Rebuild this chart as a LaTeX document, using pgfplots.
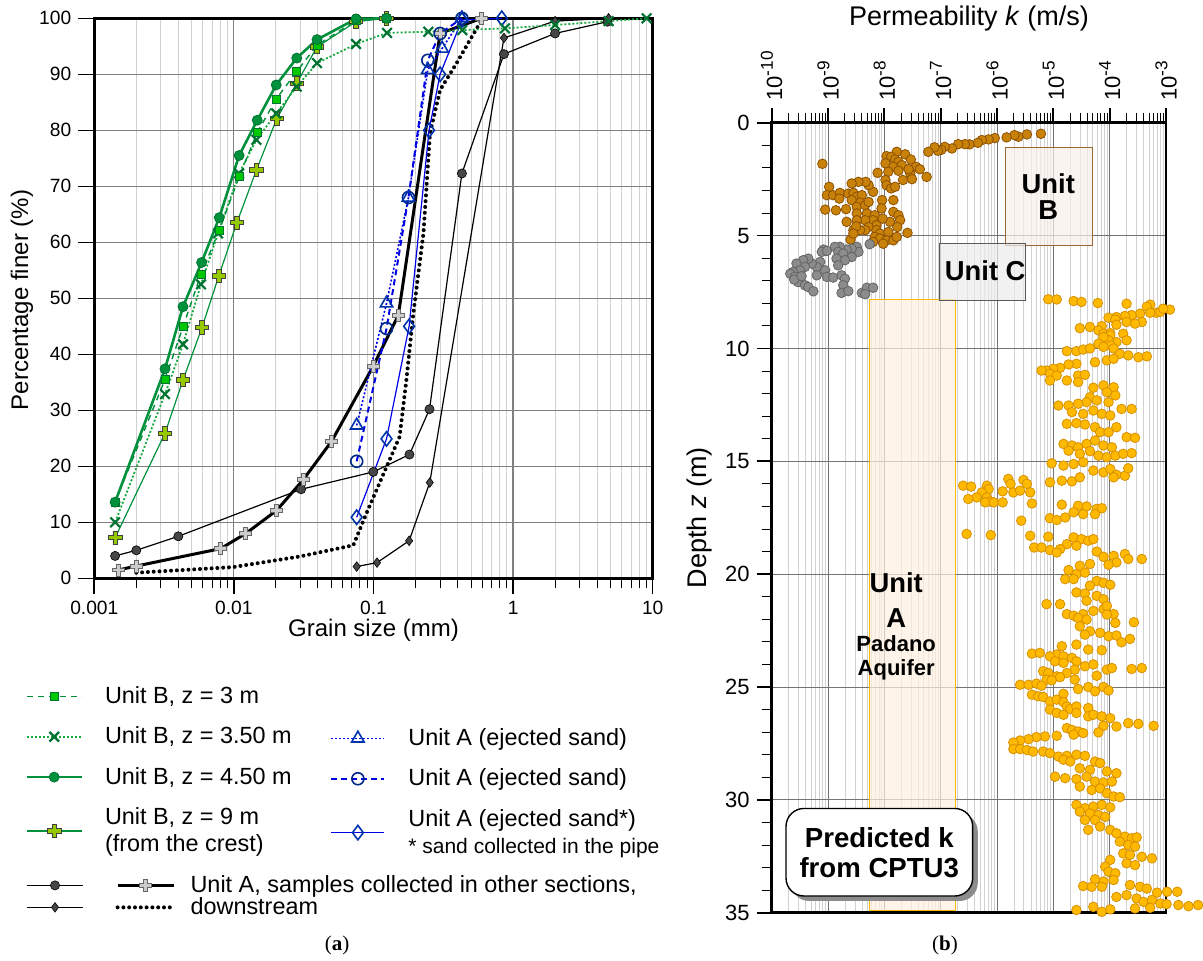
\documentclass[border=0pt]{standalone}
\usepackage{fontspec}
\setmainfont{Liberation Sans}
\newfontfamily\seriffont{Liberation Serif}
\usepackage{pgfplots}
\pgfplotsset{compat=1.18}

\definecolor{gDark}{RGB}{0,115,50}
\definecolor{gMid}{RGB}{0,145,60}
\definecolor{gDot}{RGB}{20,170,60}
\definecolor{gBright}{RGB}{0,200,0}
\definecolor{gLime}{RGB}{150,200,0}
\definecolor{bLine}{RGB}{0,0,230}
\definecolor{bMark}{RGB}{0,50,170}
\definecolor{dGray}{RGB}{70,70,70}
\definecolor{kBrown}{RGB}{200,130,10}
\definecolor{kBrownE}{RGB}{140,80,0}
\definecolor{kGray}{RGB}{140,140,140}
\definecolor{kGrayE}{RGB}{100,100,100}
\definecolor{kOr}{RGB}{255,185,0}
\definecolor{kOrE}{RGB}{215,145,0}

% filled "fat" plus used by two of the grading curves
\pgfdeclareplotmark{fatplus}{%
  \pgfmathsetlengthmacro\fpa{0.32*\pgfplotmarksize}%
  \pgfpathmoveto{\pgfqpoint{-\fpa}{\pgfplotmarksize}}%
  \pgfpathlineto{\pgfqpoint{\fpa}{\pgfplotmarksize}}%
  \pgfpathlineto{\pgfqpoint{\fpa}{\fpa}}%
  \pgfpathlineto{\pgfqpoint{\pgfplotmarksize}{\fpa}}%
  \pgfpathlineto{\pgfqpoint{\pgfplotmarksize}{-\fpa}}%
  \pgfpathlineto{\pgfqpoint{\fpa}{-\fpa}}%
  \pgfpathlineto{\pgfqpoint{\fpa}{-\pgfplotmarksize}}%
  \pgfpathlineto{\pgfqpoint{-\fpa}{-\pgfplotmarksize}}%
  \pgfpathlineto{\pgfqpoint{-\fpa}{-\fpa}}%
  \pgfpathlineto{\pgfqpoint{-\pgfplotmarksize}{-\fpa}}%
  \pgfpathlineto{\pgfqpoint{-\pgfplotmarksize}{\fpa}}%
  \pgfpathlineto{\pgfqpoint{-\fpa}{\fpa}}%
  \pgfpathclose
  \pgfusepathqfillstroke}

\tikzset{
  sB3/.style={gMid, dash pattern=on 3pt off 2.5pt, line width=0.7pt, mark=square*, mark size=2pt,
    mark options={solid, fill=gBright, draw=gDark, line width=0.4pt}},
  sB35/.style={gDot, dash pattern=on 1pt off 1pt, line width=0.9pt, mark=x, mark size=3.4pt,
    mark options={solid, draw=gDark, line width=1.1pt}},
  sB45/.style={gMid, line width=1.3pt, mark=*, mark size=2.5pt,
    mark options={solid, fill=gMid, draw=gDark, line width=0.4pt}},
  sB9/.style={gMid, line width=0.6pt, mark=fatplus, mark size=3.4pt,
    mark options={solid, fill=gLime, draw=black!75, line width=0.4pt}},
  sAt/.style={bLine, dash pattern=on 1pt off 1pt, line width=0.8pt, mark=triangle, mark size=3.6pt,
    mark options={solid, draw=bMark, line width=0.8pt}},
  sAc/.style={bLine, dash pattern=on 3pt off 2pt, line width=1.0pt, mark=o, mark size=3pt,
    mark options={solid, draw=bMark!80!black, line width=0.8pt}},
  sAd/.style={bLine, line width=0.6pt, mark=diamond, mark size=3.6pt,
    mark options={solid, draw=bMark, line width=0.8pt}},
  sKc/.style={black, line width=0.6pt, mark=*, mark size=2.3pt,
    mark options={fill=dGray, draw=black, line width=0.3pt}},
  sKd/.style={black, line width=0.6pt, mark=diamond*, mark size=2.4pt,
    mark options={fill=dGray, draw=black, line width=0.3pt}},
  sKp/.style={black, line width=1.5pt, mark=fatplus, mark size=3pt,
    mark options={fill=black!20, draw=black!60, line width=0.4pt}},
  sKdot/.style={black, line width=2pt, line cap=round, dash pattern=on 0pt off 2.9pt},
}
\newcommand\ex[1]{10\raisebox{0.42em}{\fontsize{8.6}{9}\selectfont #1}}

\begin{document}
\begin{tikzpicture}
\path[use as bounding box] (0,0) rectangle (601.5pt,-480pt);

% ---------------- (a) grain size distribution ----------------
\begin{axis}[name=L, at={(47.15pt,-9.15pt)}, anchor=north west, scale only axis,
  width=279.2pt, height=280pt,
  xmode=log, xmin=0.001, xmax=10, ymin=0, ymax=100,
  xtick={0.001,0.01,0.1,1,10}, xticklabels={0.001,0.01,0.1,1,10},
  minor xtick={0.002,0.003,0.004,0.005,0.006,0.007,0.008,0.009,
    0.02,0.03,0.04,0.05,0.06,0.07,0.08,0.09,
    0.2,0.3,0.4,0.5,0.6,0.7,0.8,0.9,
    2,3,4,5,6,7,8,9},
  ytick={0,10,...,100},
  /pgf/number format/assume math mode=true,
  tick align=outside, xtick pos=left, ytick pos=left,
  major tick length=8pt, minor tick length=5pt,
  major tick style={black, line width=0.8pt},
  minor tick style={black, line width=0.5pt},
  xmajorgrids, xminorgrids, ymajorgrids,
  major grid style={draw=black!50, line width=0.6pt},
  minor grid style={draw=black!18, line width=0.5pt},
  axis line style={line width=1.4pt},
  tick label style={font=\fontsize{9.6}{11}\selectfont},
  clip=false]

\addplot[sKdot] table {
0.002 1.0
0.00986 2.0
0.0297 3.9
0.0717 5.9
0.089 11.6
0.124 19.9
0.154 25.3
0.172 35.4
0.193 47.3
0.228 61.6
0.254 79.5
0.30 87.2
0.394 92.0
0.49 96.1
0.596 99.7
};
\addplot[sKc] table {
0.00141 4.0
0.002 5.0
0.004 7.5
0.0303 15.9
0.0997 19.0
0.181 22.1
0.252 30.2
0.43 72.3
0.86 93.6
2.0 97.3
4.75 99.4
};
\addplot[sKd] table {
0.0758 2.1
0.106 2.8
0.18 6.7
0.253 17.1
0.86 96.5
2.0 99.5
4.83 100
};
\addplot[sKp] table {
0.00149 1.5
0.00201 2.2
0.00804 5.3
0.01215 8.0
0.0202 12.1
0.0314 17.6
0.0502 24.5
0.0997 37.9
0.1507 47.0
0.30 97.3
0.596 100
};
\addplot[sAd] table {
0.0758 10.9
0.124 24.9
0.18 45
0.25 80
0.30 90
0.43 99.7
0.83 100
};
\addplot[sAc] table {
0.0758 20.9
0.124 44.6
0.178 68
0.245 92.5
0.30 97.3
0.43 100
};
\addplot[sAt] table {
0.0758 27.3
0.124 49.1
0.178 68
0.245 90.8
0.31 94.6
0.43 100
};
\addplot[sB9] table {
0.00141 7.25
0.00321 25.9
0.00432 35.4
0.00591 44.8
0.0078 54.0
0.0105 63.5
0.0145 72.9
0.0203 82.1
0.0282 88.4
0.0394 94.9
0.075 99.4
0.124 100
};
\addplot[sB35] table {
0.00141 10.0
0.00321 32.9
0.00432 41.8
0.00581 52.5
0.0077 61.6
0.0109 72.3
0.0145 78.3
0.0201 83.0
0.0282 87.8
0.0394 92.0
0.075 95.4
0.125 97.4
0.247 97.6
0.433 97.9
0.875 98.2
2.0 98.8
4.83 99.5
9.05 100
};
\addplot[sB3] table {
0.00141 13.6
0.00321 35.5
0.00432 44.9
0.00581 54.3
0.00786 62.2
0.0109 71.7
0.0147 79.6
0.0201 85.6
0.0282 90.5
0.0394 95.2
0.075 99.6
0.124 100
};
\addplot[sB45] table {
0.00141 13.6
0.00321 37.4
0.00432 48.5
0.00587 56.4
0.00786 64.4
0.0109 75.5
0.0147 81.8
0.0201 88.1
0.0282 92.9
0.0394 96.2
0.075 99.9
0.124 100
};
\end{axis}

% ---------------- (b) permeability profile ----------------
\begin{axis}[name=R, at={(385.85pt,-61.35pt)}, anchor=north west, scale only axis,
  width=197.15pt, height=395pt,
  xmin=-10, xmax=-3, ymin=0, ymax=35, y dir=reverse,
  xtick={-10,...,-3},
  xticklabels={\ex{-10},\ex{-9},\ex{-8},\ex{-7},\ex{-6},\ex{-5},\ex{-4},\ex{-3}},
  minor xtick={-9.699,-9.523,-9.398,-9.301,-9.222,-9.155,-9.097,-9.046,
    -8.699,-8.523,-8.398,-8.301,-8.222,-8.155,-8.097,-8.046,
    -7.699,-7.523,-7.398,-7.301,-7.222,-7.155,-7.097,-7.046,
    -6.699,-6.523,-6.398,-6.301,-6.222,-6.155,-6.097,-6.046,
    -5.699,-5.523,-5.398,-5.301,-5.222,-5.155,-5.097,-5.046,
    -4.699,-4.523,-4.398,-4.301,-4.222,-4.155,-4.097,-4.046,
    -3.699,-3.523,-3.398,-3.301,-3.222,-3.155,-3.097,-3.046},
  xtick pos=right, xticklabel pos=right,
  xticklabel style={rotate=90, anchor=west, font=\fontsize{11}{12}\selectfont},
  ytick={0,5,...,35}, minor ytick={1,2,3,4,6,7,8,9,11,12,13,14,16,17,18,19,21,22,23,24,26,27,28,29,31,32,33,34},
  ytick pos=left,
  yticklabel style={font=\fontsize{11}{12}\selectfont},
  /pgf/number format/assume math mode=true,
  tick align=outside,
  major tick length=7.5pt, minor tick length=5pt,
  major tick style={black, line width=0.9pt},
  minor tick style={black, line width=0.5pt},
  xmajorgrids, xminorgrids, ymajorgrids,
  major grid style={draw=black!55, line width=0.5pt},
  minor grid style={draw=black!18, line width=0.4pt},
  axis line style={line width=1.4pt},
  clip=false]

% unit boxes
\fill[orange!12, fill opacity=0.7] (axis cs:-8.27,7.83) rectangle (axis cs:-6.73,34.9);
\draw[kOr, line width=0.5pt] (axis cs:-8.27,7.83) rectangle (axis cs:-6.73,34.9);
\fill[brown!12, fill opacity=0.7] (axis cs:-5.85,1.09) rectangle (axis cs:-4.30,5.44);
\draw[brown!80!black, line width=0.5pt] (axis cs:-5.85,1.09) rectangle (axis cs:-4.30,5.44);
\fill[black!8, fill opacity=0.7] (axis cs:-7.02,5.37) rectangle (axis cs:-5.49,7.87);
\draw[black!65, line width=0.5pt] (axis cs:-7.02,5.37) rectangle (axis cs:-5.49,7.87);

\addplot[only marks, mark=*, mark size=2.4pt, mark options={fill=kBrown, draw=kBrownE, line width=0.4pt}] table {
-5.22 0.49
-5.47 0.52
-5.62 0.62
-5.69 0.55
-5.83 0.65
-6.04 0.68
-6.15 0.74
-6.27 0.77
-6.34 0.89
-6.49 0.96
-6.57 0.95
-6.69 0.95
-6.80 1.14
-6.93 1.07
-6.99 1.20
-7.05 1.24
-7.11 1.09
-7.22 1.29
-9.10 1.82
-7.78 1.29
-7.63 1.40
-7.96 1.48
-7.88 1.51
-7.81 1.63
-7.53 1.63
-7.98 1.80
-7.75 1.73
-7.84 1.95
-7.69 1.88
-7.44 1.95
-7.37 2.06
-7.25 2.40
-7.54 2.25
-7.67 2.54
-7.51 2.50
-7.57 2.06
-7.93 2.17
-8.12 2.22
-7.75 2.13
-7.98 2.54
-7.96 2.77
-7.88 2.91
-7.81 2.84
-7.84 3.43
-8.04 3.43
-8.20 3.06
-8.28 2.77
-8.33 2.62
-8.46 2.62
-8.58 2.69
-8.98 2.84
-9.02 3.21
-8.91 3.21
-8.79 3.11
-8.80 3.36
-8.64 3.14
-8.55 3.11
-8.49 3.28
-8.40 3.21
-8.58 3.43
-8.43 3.54
-8.49 3.73
-8.34 3.65
-8.28 3.51
-9.05 3.85
-8.86 3.88
-8.68 3.83
-8.49 4.02
-8.31 4.02
-8.17 4.10
-8.05 3.80
-7.84 3.95
-7.75 4.10
-7.72 4.32
-7.90 4.39
-8.03 4.25
-8.20 4.32
-8.34 4.32
-8.49 4.32
-8.67 4.39
-8.14 4.54
-8.28 4.62
-8.34 4.76
-8.43 4.76
-8.55 4.76
-8.50 4.59
-8.14 4.76
-8.08 4.91
-7.93 4.84
-7.77 4.62
-7.59 4.88
-8.17 5.06
-8.08 5.13
-7.96 5.21
-7.84 5.21
-7.78 5.06
-8.60 5.18
-8.55 4.91
-8.02 5.36
-8.20 5.28
};
\addplot[only marks, mark=*, mark size=2.4pt, mark options={fill=kGray, draw=kGrayE, line width=0.4pt}] table {
-8.26 5.38
-8.49 5.50
-8.46 5.72
-8.58 5.58
-8.67 5.62
-8.79 5.50
-8.88 5.50
-8.82 5.72
-8.73 5.80
-8.58 5.95
-8.70 6.09
-8.85 6.02
-9.08 5.62
-9.11 5.72
-9.02 5.68
-9.14 6.17
-9.20 6.39
-9.29 6.24
-9.35 6.02
-9.44 6.09
-9.56 6.24
-9.41 6.39
-9.50 6.54
-9.62 6.61
-9.67 6.69
-9.59 6.83
-9.53 7.06
-9.41 7.20
-9.35 7.28
-9.26 7.47
-9.20 6.76
-9.05 6.54
-9.02 6.83
-8.91 6.86
-8.82 6.32
-8.76 6.76
-8.70 6.91
-8.73 7.20
-8.76 7.54
-8.64 7.46
-8.40 7.54
-8.31 7.31
-8.20 7.31
-8.34 7.60
-9.60 6.95
-9.47 6.80
};
\addplot[only marks, mark=*, mark size=2.4pt, mark options={fill=kOr, draw=kOrE, line width=0.4pt}] table {
-5.09 7.82
-4.94 7.83
-4.64 7.90
-4.50 7.94
-4.21 7.99
-3.70 8.02
-3.28 8.06
-3.34 8.15
-3.17 8.42
-3.10 8.38
-2.93 8.28
-3.05 8.24
-3.28 8.42
-3.46 8.46
-3.61 8.52
-3.73 8.56
-3.88 8.61
-4.02 8.64
-3.90 8.72
-3.70 8.83
-3.43 8.83
-3.55 8.90
-3.88 8.95
-4.14 9.01
-4.35 9.05
-4.53 9.10
-4.20 9.20
-4.11 9.35
-3.99 9.32
-3.99 9.42
-3.76 9.35
-3.70 9.64
-3.88 9.72
-4.02 9.64
-4.11 9.50
-4.20 9.79
-3.98 9.87
-4.76 10.12
-4.59 10.12
-4.47 10.05
-4.35 10.00
-4.11 9.93
-3.93 10.00
-3.82 10.24
-3.67 10.31
-3.49 10.39
-3.34 10.35
-4.05 10.53
-3.93 10.46
-4.26 10.61
-4.59 10.68
-4.73 10.71
-4.88 10.86
-5.00 10.90
-5.12 10.98
-5.21 10.98
-5.06 11.12
-4.94 11.20
-5.06 11.42
-4.76 11.42
-4.56 11.20
-4.44 11.17
-4.56 11.49
-4.29 11.74
-4.11 11.64
-3.93 11.72
-4.05 11.94
-3.90 12.08
-4.35 12.16
-4.41 12.38
-4.23 12.30
-4.02 12.38
-4.91 12.53
-4.73 12.53
-4.56 12.45
-4.67 12.82
-4.47 12.90
-4.29 12.75
-4.14 12.90
-3.99 12.97
-3.79 12.68
-3.61 12.68
-4.76 13.34
-4.59 13.31
-4.44 13.37
-4.26 13.49
-4.17 13.71
-4.02 13.71
-3.88 13.49
-3.70 13.93
-3.55 13.96
-4.82 14.23
-4.67 14.30
-4.56 14.38
-4.41 14.23
-4.26 14.08
-4.11 14.30
-3.96 14.38
-4.73 14.53
-4.53 14.67
-4.35 14.55
-4.20 14.75
-4.05 14.82
-3.90 14.75
-3.76 14.67
-3.61 14.64
-5.03 15.09
-4.82 15.19
-4.64 15.12
-4.47 15.04
-4.29 15.41
-4.11 15.49
-3.99 15.34
-3.88 15.60
-3.73 15.64
-3.67 15.31
-5.06 15.93
-4.85 15.86
-4.67 15.89
-4.53 15.71
-3.93 15.71
-6.60 16.08
-6.46 16.12
-6.18 16.08
-6.15 16.23
-6.27 16.38
-6.36 16.60
-6.51 16.67
-6.18 16.60
-6.12 16.78
-6.21 16.82
-6.06 16.82
-5.90 16.33
-5.80 15.78
-5.76 16.00
-5.71 16.38
-5.53 15.83
-5.47 16.00
-5.41 16.38
-5.38 16.87
-5.59 16.30
-5.90 16.82
-5.57 17.63
-6.54 18.22
-6.11 18.27
-5.41 18.30
-5.34 18.82
-5.21 18.82
-4.85 16.92
-4.56 16.97
-4.41 17.00
-4.23 17.11
-4.14 17.08
-4.47 17.34
-4.64 17.26
-5.06 17.52
-4.94 17.60
-4.79 17.49
-4.26 17.34
-5.09 18.34
-4.64 18.37
-4.50 18.45
-4.38 18.52
-4.29 18.45
-4.59 18.74
-4.76 18.67
-5.06 18.93
-4.88 18.89
-4.94 19.04
-4.23 19.00
-4.11 19.23
-3.93 19.19
-3.73 19.11
-3.67 19.33
-3.43 19.33
-3.88 19.48
-4.02 19.58
-4.35 19.55
-4.53 19.63
-4.73 19.82
-4.59 20.00
-4.44 19.93
-4.79 20.22
-4.64 20.22
-4.23 20.30
-4.11 20.38
-3.99 20.47
-4.35 20.51
-4.59 20.81
-4.44 20.86
-4.23 20.96
-4.11 21.11
-4.41 21.18
-5.12 21.33
-4.88 21.33
-4.76 21.77
-4.64 21.84
-4.47 21.77
-4.29 21.63
-4.11 21.55
-3.93 21.77
-4.05 21.41
-4.56 21.94
-4.41 22.01
-4.05 21.79
-3.90 22.16
-3.57 22.13
-4.53 22.31
-4.35 22.53
-4.17 22.60
-4.44 22.68
-4.02 22.75
-3.88 22.72
-3.64 22.87
-3.79 23.02
-4.59 23.12
-4.38 23.34
-4.14 23.37
-4.85 23.19
-4.94 23.56
-5.38 23.52
-5.24 23.49
-5.06 23.64
-4.82 23.64
-4.67 23.71
-4.59 23.86
-4.97 23.86
-4.82 23.93
-4.44 24.08
-4.29 24.00
-4.62 24.23
-5.18 24.30
-5.09 24.38
-4.94 24.53
-4.76 24.38
-4.62 24.67
-4.23 24.50
-4.05 24.23
-3.96 24.16
-3.61 24.20
-3.43 24.16
-5.12 24.67
-5.03 24.70
-4.88 24.56
-5.59 24.90
-5.44 24.90
-5.30 24.85
-5.21 24.94
-4.56 25.09
-4.38 25.00
-4.26 25.19
-4.11 25.00
-4.02 25.15
-4.82 25.30
-5.38 25.34
-5.27 25.41
-5.18 25.44
-5.06 25.64
-4.94 25.56
-4.82 25.67
-4.76 25.86
-4.70 25.97
-4.59 25.86
-4.38 25.93
-5.06 26.00
-4.94 26.15
-4.82 26.23
-4.59 26.15
-4.38 26.30
-4.29 26.23
-4.14 26.30
-3.99 26.38
-3.67 26.60
-3.49 26.63
-3.22 26.72
-3.88 26.75
-4.11 26.72
-4.20 27.01
-4.76 26.82
-4.67 26.90
-4.56 26.97
-4.47 27.04
-4.64 27.11
-4.94 27.16
-5.15 27.19
-5.30 27.22
-5.44 27.31
-5.59 27.37
-5.71 27.46
-5.71 27.75
-5.59 27.75
-5.47 27.79
-5.36 27.86
-5.18 27.86
-5.06 27.93
-4.91 28.08
-4.76 28.05
-4.59 28.00
-4.44 28.05
-4.26 28.30
-4.82 28.22
-4.70 28.30
-4.53 28.60
-4.35 28.67
-4.17 28.37
-4.05 28.74
-3.88 28.82
-4.97 28.97
-4.79 29.04
-4.59 29.08
-4.41 28.97
-4.26 29.19
-4.11 29.23
-3.96 29.19
-4.53 29.41
-4.32 29.56
-4.17 29.49
-4.05 29.70
-3.93 29.85
-3.82 29.88
-4.59 30.22
-4.44 30.37
-4.29 30.30
-4.14 30.22
-3.99 30.33
-4.53 30.52
-4.35 30.60
-4.20 30.67
-4.08 30.75
-4.44 30.89
-4.26 30.89
-4.38 31.33
-4.17 31.18
-3.99 31.33
-3.88 31.48
-3.73 31.63
-3.61 31.70
-3.52 31.66
-3.82 31.85
-3.67 32.00
-3.55 32.07
-3.76 32.37
-3.64 32.44
-3.43 32.52
-3.25 32.59
-3.70 32.81
-3.55 32.89
-3.99 32.66
-4.08 32.96
-4.02 33.18
-3.90 33.25
-3.93 33.55
-4.11 33.62
-4.26 33.52
-4.47 33.82
-4.32 33.85
-4.14 33.85
-3.64 33.77
-3.46 33.85
-3.34 33.93
-3.16 34.11
-2.98 34.07
-2.80 34.07
-3.88 34.30
-3.70 34.22
-3.52 34.37
-3.40 34.52
-3.25 34.44
-3.10 34.59
-2.99 34.62
-2.78 34.66
-2.60 34.71
-2.43 34.66
-4.59 34.88
-4.29 34.74
-4.14 34.96
-3.99 34.85
-3.55 34.81
-3.28 34.78
};

% labels inside the profile
\node[font=\bfseries\fontsize{13.7}{13}\selectfont, align=center] at (axis cs:-5.09,3.25) {Unit\\B};
\node[font=\bfseries\fontsize{13.7}{15}\selectfont] at (axis cs:-6.21,6.57) {Unit C};
\node[font=\bfseries\fontsize{13.7}{15}\selectfont] at (axis cs:-7.79,20.39) {Unit};
\node[font=\bfseries\fontsize{13.7}{15}\selectfont] at (axis cs:-7.79,21.94) {A};
\node[font=\bfseries\fontsize{11}{12}\selectfont, align=center] at (axis cs:-7.79,23.72) {Padano\\Aquifer};
\fill[black!45, rounded corners=9pt] (axis cs:-9.656,30.60) rectangle (axis cs:-6.342,34.48);
\draw[fill=white, line width=0.7pt, rounded corners=9pt] (axis cs:-9.746,30.38) rectangle (axis cs:-6.432,34.26);
\node[font=\bfseries\fontsize{13.8}{15}\selectfont, align=center] at (axis cs:-8.09,32.32) {Predicted k\\from CPTU3};
\end{axis}

% ---------------- legend of (a) ----------------
\begin{axis}[at={(12.5pt,-343pt)}, anchor=north west, hide axis, scale only axis,
  width=1pt, height=1pt, xmin=0, xmax=1, ymin=0, ymax=1,
  legend style={at={(0,1)}, anchor=north west, draw=none, fill=none, inner sep=0pt,
    row sep=10.2pt, column sep=11pt, font=\fontsize{11.7}{13.5}\selectfont,
    nodes={inner sep=0pt, align=left}},
  legend cell align=left,
  legend image code/.code={\draw[mark repeat=2,mark phase=2,#1] plot coordinates {(0pt,0pt) (13.75pt,0pt) (27.5pt,0pt)};}]
\addlegendimage{sB3}\addlegendentry{Unit B, z = 3 m}
\addlegendimage{sB35}\addlegendentry{Unit B, z = 3.50 m}
\addlegendimage{sB45}\addlegendentry{Unit B, z = 4.50 m}
\addlegendimage{sB9}\addlegendentry{Unit B, z = 9 m\\(from the crest)}
\end{axis}

\begin{axis}[at={(165pt,-364pt)}, anchor=north west, hide axis, scale only axis,
  width=1pt, height=1pt, xmin=0, xmax=1, ymin=0, ymax=1,
  legend style={at={(0,1)}, anchor=north west, draw=none, fill=none, inner sep=0pt,
    row sep=10.2pt, column sep=11.5pt, font=\fontsize{11.7}{13.5}\selectfont,
    nodes={inner sep=0pt, align=left}},
  legend cell align=left,
  legend image code/.code={\draw[mark repeat=2,mark phase=2,#1] plot coordinates {(0pt,0pt) (13.25pt,0pt) (26.5pt,0pt)};}]
\addlegendimage{sAt}\addlegendentry{Unit A (ejected sand)}
\addlegendimage{sAc}\addlegendentry{Unit A (ejected sand)}
\addlegendimage{sAd}\addlegendentry{Unit A (ejected sand*)\\{\fontsize{10.5}{12}\selectfont * sand collected in the pipe}}
\end{axis}

\begin{axis}[at={(13pt,-437.5pt)}, anchor=north west, hide axis, scale only axis,
  width=1pt, height=1pt, xmin=0, xmax=1, ymin=0, ymax=1,
  legend columns=2,
  legend style={at={(0,1)}, anchor=north west, draw=none, fill=none, inner sep=0pt,
    row sep=1pt, column sep=7.5pt, font=\fontsize{11.7}{13.5}\selectfont,
    nodes={inner sep=0pt, align=left}},
  legend cell align=left,
  legend image code/.code={\draw[mark repeat=2,mark phase=2,#1] plot coordinates {(0pt,0pt) (14pt,0pt) (28pt,0pt)};}]
\addlegendimage{sKc}\addlegendentry{}
\addlegendimage{sKp}\addlegendentry{Unit A, samples collected in other sections,}
\addlegendimage{sKd}\addlegendentry{}
\addlegendimage{sKdot}\addlegendentry{downstream}
\end{axis}

% axis titles and panel letters
\node[rotate=90, font=\fontsize{12}{14}\selectfont] at (11pt,-150pt) {Percentage finer (\%)};
\node[font=\fontsize{12}{14}\selectfont] at (186.75pt,-315pt) {Grain size (mm)};
\node[font=\fontsize{13.5}{15}\selectfont] at (484.5pt,-9.5pt) {Permeability \textit{k} (m/s)};
\node[rotate=90, font=\fontsize{13.5}{15}\selectfont] at (350pt,-258.9pt) {Depth \textit{z} (m)};
\node[font=\seriffont\fontsize{10.5}{12}\selectfont] at (168.5pt,-472.5pt) {(\textbf{a})};
\node[font=\seriffont\fontsize{10.5}{12}\selectfont] at (472.5pt,-472.5pt) {(\textbf{b})};
\end{tikzpicture}
\end{document}
